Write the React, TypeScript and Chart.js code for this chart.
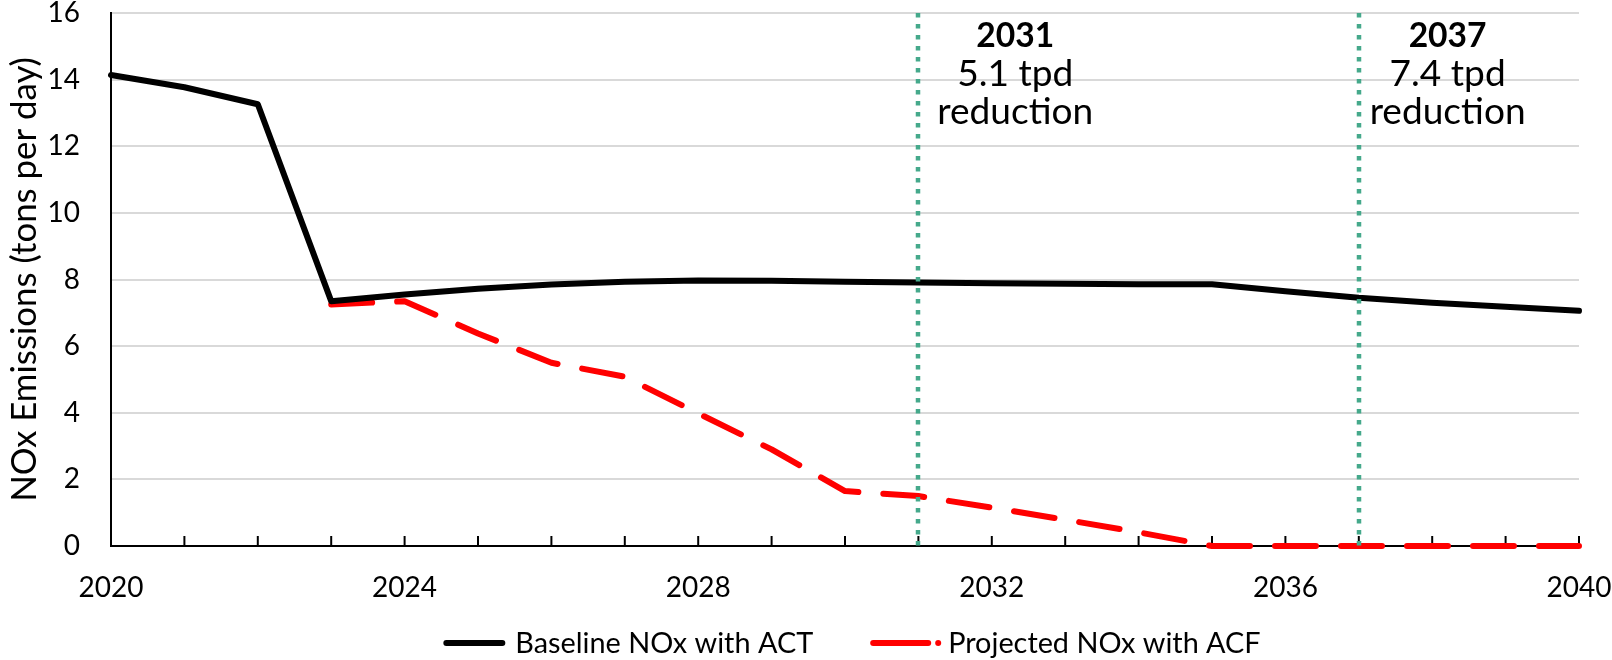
import React, { useEffect, useRef } from "react";
import { Chart, registerables } from "chart.js";

Chart.register(...registerables);

const years = [2020, 2021, 2022, 2023, 2024, 2025, 2026, 2027, 2028, 2029, 2030, 2031, 2032, 2033, 2034, 2035, 2036, 2037, 2038, 2039, 2040];
const baselineNOx = [14.14, 13.77, 13.26, 7.35, 7.55, 7.72, 7.85, 7.93, 7.97, 7.96, 7.93, 7.91, 7.89, 7.87, 7.86, 7.86, 7.65, 7.45, 7.3, 7.18, 7.06];
const projectedNOx = [null, null, null, 7.25, 7.35, 6.38, 5.5, 5.08, 3.98, 2.9, 1.65, 1.5, 1.15, 0.79, 0.41, 0, 0, 0, 0, 0, 0];
const seriesNames = ["Baseline NOx with ACT", "Projected NOx with ACF"];
const xTickLabels = [2020, 2024, 2028, 2032, 2036, 2040];
const yTickLabels = [0, 2, 4, 6, 8, 10, 12, 14, 16];
const yTitle = "NOx Emissions (tons per day)";
const markerYears = [2031, 2037];
const markerTextYears = [2032.32, 2038.21];
const markerTitles = ["2031", "2037"];
const markerLines = [["5.1 tpd", "reduction"], ["7.4 tpd", "reduction"]];

const FAMILY = 'Lato, "Noto Sans", sans-serif';
const LINE_W = 6;

function fitSize(text: string, target: number, weight = "normal") {
  const c = document.createElement("canvas").getContext("2d")!;
  c.font = `${weight} 100px ${FAMILY}`;
  return (100 * target) / c.measureText(text).width;
}

export default function App() {
  const ref = useRef<HTMLCanvasElement>(null);

  useEffect(() => {
    const canvas = ref.current;
    if (!canvas) return;
    const tickSize = fitSize("2020", 65);
    const titleSize = fitSize(yTitle, 445);
    const legendSize = fitSize(seriesNames[0], 298);
    const annBoldSize = fitSize(markerTitles[0], 78, "bold");
    const annSize = fitSize("reduction", 156);

    const decor = {
      id: "decor",
      beforeDatasetsDraw(chart: any) {
        const { ctx, chartArea } = chart;
        const xs = chart.scales.x;
        ctx.save();
        ctx.strokeStyle = "#000";
        ctx.lineWidth = 2;
        for (const yr of years) {
          if (yr === years[0]) continue;
          const px = xs.getPixelForValue(yr);
          ctx.beginPath();
          ctx.moveTo(px, chartArea.bottom);
          ctx.lineTo(px, chartArea.bottom - 10);
          ctx.stroke();
        }
        ctx.restore();
      },
      afterDatasetsDraw(chart: any) {
        const { ctx, chartArea } = chart;
        const xs = chart.scales.x;
        ctx.save();
        ctx.strokeStyle = "#45A98B";
        ctx.lineWidth = 4.5;
        ctx.setLineDash([4.5, 6.5]);
        for (const yr of markerYears) {
          const px = Math.round(xs.getPixelForValue(yr));
          ctx.beginPath();
          ctx.moveTo(px, chartArea.top);
          ctx.lineTo(px, chartArea.bottom);
          ctx.stroke();
        }
        ctx.restore();
      },
      afterDraw(chart: any) {
        const { ctx, chartArea } = chart;
        const xs = chart.scales.x;
        ctx.save();
        ctx.fillStyle = "#000";
        ctx.textAlign = "center";
        ctx.textBaseline = "middle";
        markerTextYears.forEach((yr, i) => {
          const cx = xs.getPixelForValue(yr);
          ctx.font = `bold ${annBoldSize}px ${FAMILY}`;
          ctx.fillText(markerTitles[i], cx, chartArea.top + 23);
          ctx.font = `normal ${annSize}px ${FAMILY}`;
          ctx.fillText(markerLines[i][0], cx, chartArea.top + 61);
          ctx.fillText(markerLines[i][1], cx, chartArea.top + 99);
        });

        // legend
        ctx.font = `normal ${legendSize}px ${FAMILY}`;
        ctx.textAlign = "left";
        const ds = chart.data.datasets;
        const sampleW = [62, 71];
        const gapW = [10, 7];
        const spacing = 57;
        const textW = ds.map((d: any) => ctx.measureText(d.label).width);
        const total = sampleW[0] + gapW[0] + textW[0] + spacing + sampleW[1] + gapW[1] + textW[1];
        let x = (chartArea.left + chartArea.right) / 2 + 7 - total / 2;
        const y = chart.height - 17;
        ds.forEach((d: any, i: number) => {
          ctx.strokeStyle = d.borderColor;
          ctx.fillStyle = d.borderColor;
          ctx.lineWidth = LINE_W;
          ctx.lineCap = "round";
          ctx.setLineDash([]);
          if (d.borderDash && d.borderDash.length) {
            ctx.beginPath();
            ctx.moveTo(x + 3, y);
            ctx.lineTo(x + 58, y);
            ctx.stroke();
            ctx.beginPath();
            ctx.arc(x + sampleW[i] - 3, y, 3, 0, Math.PI * 2);
            ctx.fill();
          } else {
            ctx.beginPath();
            ctx.moveTo(x + 3, y);
            ctx.lineTo(x + sampleW[i] - 3, y);
            ctx.stroke();
          }
          x += sampleW[i] + gapW[i];
          ctx.fillStyle = "#000";
          ctx.fillText(d.label, x, y + 1);
          x += textW[i] + spacing;
        });
        ctx.restore();
      },
    };

    const toPoints = (vals: (number | null)[]) =>
      years.map((x, i) => ({ x, y: vals[i] })).filter((p) => p.y !== null);

    const chart = new Chart(canvas, {
      type: "line",
      data: {
        datasets: [
          {
            label: seriesNames[0],
            data: toPoints(baselineNOx) as any,
            borderColor: "#000000",
            borderWidth: LINE_W,
            pointRadius: 0,
            borderJoinStyle: "round",
            borderCapStyle: "round",
            tension: 0,
            clip: 8,
          },
          {
            label: seriesNames[1],
            data: toPoints(projectedNOx) as any,
            borderColor: "#FF0000",
            borderWidth: LINE_W,
            borderDash: [41, 25],
            borderCapStyle: "round",
            borderJoinStyle: "round",
            pointRadius: 0,
            tension: 0,
            clip: 8,
          },
        ],
      },
      options: {
        animation: false,
        responsive: true,
        maintainAspectRatio: false,
        layout: { padding: { top: 13, right: 33, bottom: 34, left: 0 } },
        plugins: { legend: { display: false }, tooltip: { enabled: false } },
        scales: {
          x: {
            type: "linear",
            min: years[0],
            max: years[years.length - 1],
            afterBuildTicks: (s: any) => {
              s.ticks = xTickLabels.map((value) => ({ value }));
            },
            ticks: {
              callback: (v: any) => String(v),
              font: { size: tickSize, family: FAMILY },
              color: "#000",
              padding: 42 - tickSize * 0.6,
              maxRotation: 0,
              autoSkip: false,
            },
            grid: { display: false, drawTicks: false },
            border: { display: true, color: "#000", width: 2 },
            afterFit: (s: any) => {
              s.height = 80;
              s.paddingLeft = 0;
              s.paddingRight = 0;
            },
          },
          y: {
            min: 0,
            max: 16,
            afterBuildTicks: (s: any) => {
              s.ticks = yTickLabels.map((value) => ({ value }));
            },
            ticks: {
              callback: (v: any) => String(v),
              font: { size: tickSize, family: FAMILY },
              color: "#000",
              padding: 31,
            },
            grid: {
              color: (c: any) => (c.tick && c.tick.value === 0 ? "rgba(0,0,0,0)" : "#D9D9D9"),
              lineWidth: 2,
              drawTicks: false,
            },
            border: { display: true, color: "#000", width: 2 },
            title: {
              display: true,
              text: yTitle,
              color: "#000",
              font: { size: titleSize, family: FAMILY },
              padding: { top: 25 - titleSize * 0.6, bottom: 0 },
            },
            afterFit: (s: any) => {
              s.width = 111;
              s.paddingTop = 0;
              s.paddingBottom = 0;
            },
          },
        },
      },
      plugins: [decor],
    });

    return () => chart.destroy();
  }, []);

  return (
    <div style={{ position: "fixed", left: 0, top: 0, width: 1612, height: 660, background: "#fff" }}>
      <canvas ref={ref} />
    </div>
  );
}
